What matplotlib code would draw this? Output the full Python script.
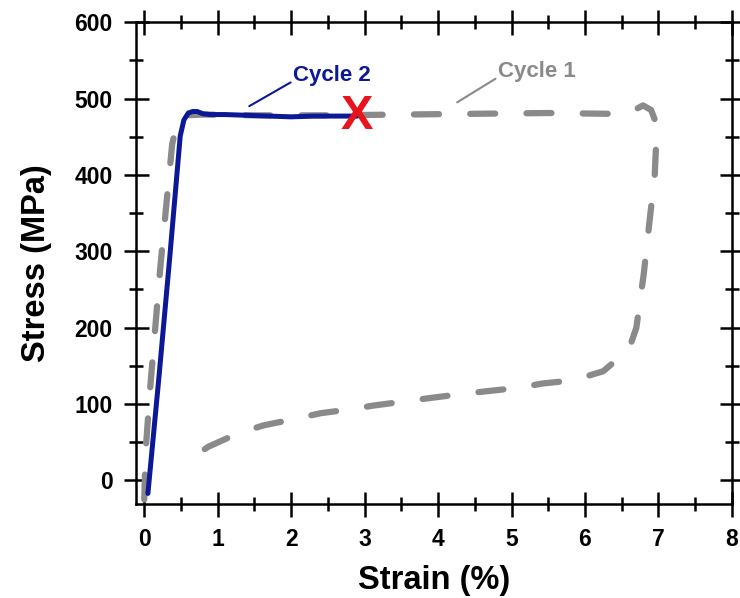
import matplotlib.pyplot as plt
from matplotlib.ticker import MultipleLocator

plt.rcParams['font.family'] = ['Liberation Sans', 'DejaVu Sans']
plt.rcParams['font.weight'] = 'bold'

# cycle 1 (grey, dashed): loading, plateau, unloading
cycle1_strain = [0.0, 0.02, 0.08, 0.15, 0.22, 0.30, 0.38, 0.45, 0.55, 0.8, 1.5, 2.5,
                 3.5, 4.5, 5.5, 6.3, 6.6, 6.79, 6.9, 6.98, 6.95, 6.88, 6.8, 6.7,
                 6.6, 6.25, 5.84, 5.43, 5.07, 4.68, 4.31, 3.9, 3.12, 2.8, 2.4,
                 2.03, 1.62, 1.26, 0.87, 0.52]
cycle1_stress = [-25, 40, 120, 200, 280, 360, 440, 470, 478, 479, 478, 478,
                 479, 480, 481, 480, 481, 491, 485, 465, 400, 340, 270, 200,
                 172, 143, 131, 127, 121, 117, 113, 108, 98, 93, 88,
                 80, 72, 61, 44, 21]

# cycle 2 (blue, solid): fails at about 2.9 %
cycle2_strain = [0.05, 0.2, 0.35, 0.49, 0.54, 0.6, 0.66, 0.72, 0.8, 0.9, 1.1,
                 1.4, 1.7, 2.0, 2.3, 2.6, 2.9]
cycle2_stress = [-17, 135, 295, 451, 472, 481, 483, 483, 480, 479, 479,
                 478, 477, 476, 477, 477, 477]
fail_point = (2.9, 476)

fig = plt.figure(figsize=(7.4, 5.98), dpi=100)
ax = fig.add_axes([0.184, 0.157, 0.805, 0.806])

ax.plot(cycle1_strain, cycle1_stress, color='#8a8a8a', lw=4.5,
        dashes=(4, 5), dash_capstyle='round', solid_capstyle='round')
ax.plot(cycle2_strain, cycle2_stress, color='#0c1896', lw=3.6,
        solid_capstyle='round')
ax.text(fail_point[0], fail_point[1], 'X', color='#e8141c', fontsize=35,
        fontweight='bold', ha='center', va='center')

# labels with leader lines
ax.annotate('Cycle 2', xy=(1.43, 490), xytext=(2.03, 530), color='#0c1896',
            fontsize=16, fontweight='bold', ha='left', va='center',
            arrowprops=dict(arrowstyle='-', color='#0c1896', lw=1.5,
                            shrinkA=0, shrinkB=0,
                            relpos=(0.0, 0.25)))
ax.annotate('Cycle 1', xy=(4.26, 495), xytext=(4.82, 535), color='#8a8a8a',
            fontsize=16, fontweight='bold', ha='left', va='center',
            arrowprops=dict(arrowstyle='-', color='#8a8a8a', lw=1.5,
                            shrinkA=0, shrinkB=0,
                            relpos=(0.0, 0.25)))

ax.set_xlim(-0.11, 8)
ax.set_ylim(-31, 600)
ax.xaxis.set_major_locator(MultipleLocator(1))
ax.xaxis.set_minor_locator(MultipleLocator(0.5))
ax.yaxis.set_major_locator(MultipleLocator(100))
ax.yaxis.set_minor_locator(MultipleLocator(50))

for s in ax.spines.values():
    s.set_linewidth(1.8)
ax.tick_params(which='both', direction='inout', top=True, right=True,
               width=1.8, labelsize=16.5)
ax.tick_params(which='major', length=18, pad=8)
ax.tick_params(which='minor', length=10)

ax.set_xlabel('Strain (%)', fontsize=23.5, fontweight='bold', labelpad=10)
ax.set_ylabel('Stress (MPa)', fontsize=23.5, fontweight='bold', labelpad=16)

fig.savefig('out.png', dpi=100)
